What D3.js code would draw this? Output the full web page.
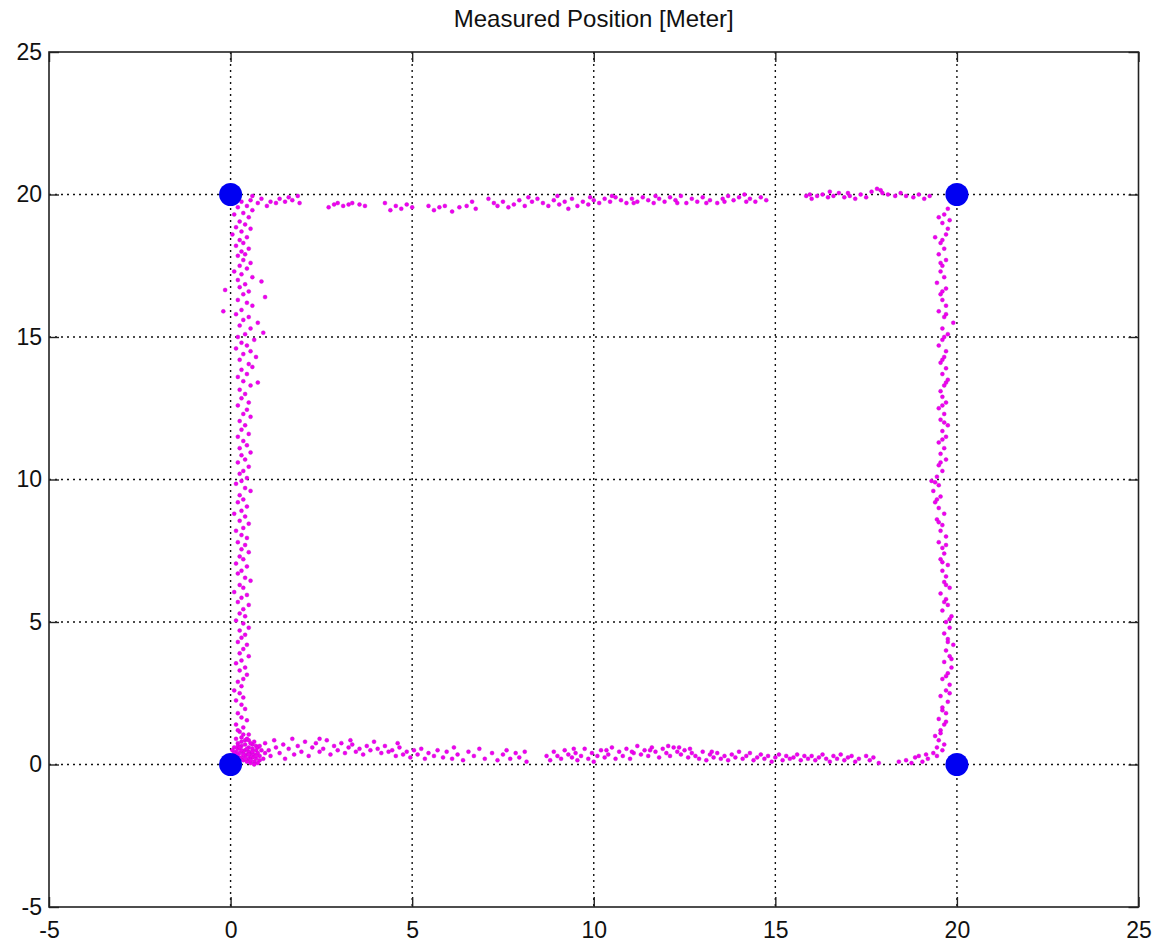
<!DOCTYPE html>
<html>
<head>
<meta charset="utf-8">
<script src="https://cdn.jsdelivr.net/npm/d3@7"></script>
<style>
  html, body { margin: 0; padding: 0; background: #fff; }
  svg { display: block; }
  text { font-family: "Liberation Sans", Arial, Helvetica, sans-serif; fill: #111; }
</style>
</head>
<body>
<script>
const titleText = "Measured Position [Meter]";
const xTicks = [-5, 0, 5, 10, 15, 20, 25];
const yTicks = [-5, 0, 5, 10, 15, 20, 25];
const anchorX = [0, 0, 20, 20];
const anchorY = [0, 20, 0, 20];

const leftPts = [
[0.3,19.75],[0.55,19.8],[0.45,19.6],[0.2,19.55],[0.6,19.45],[0.35,19.35],[0.1,19.3],[0.5,19.2],[0.25,19.05],[0.4,18.95],
[0.15,18.85],[0.55,18.8],[0.3,18.7],[0.05,18.6],[0.45,18.5],[0.25,18.4],[0.35,18.3],[0.15,18.2],[0.5,18.1],[0.3,18.0],
[0.4,17.9],[0.2,17.85],[0.35,17.7],[0.55,17.6],[0.25,17.5],[0.45,17.4],[0.1,17.3],[0.3,17.2],[0.6,17.1],[0.2,17.0],
[0.85,16.95],[0.4,16.85],[0.25,16.75],[-0.15,16.65],[0.5,16.6],[0.35,16.5],[0.95,16.4],[0.2,16.3],[0.45,16.2],[0.6,16.1],
[-0.2,15.9],[0.3,15.95],[0.15,15.8],[0.5,15.7],[0.75,15.5],[0.35,15.6],[0.25,15.4],[0.55,15.3],[0.9,15.15],[0.4,15.1],
[0.2,15.0],[0.65,14.9],[0.3,14.8],[0.45,14.7],[0.15,14.6],[0.55,14.5],[0.35,14.4],[0.7,14.3],[0.25,14.2],[0.5,14.05],
[0.6,13.95],[0.3,13.85],[0.45,13.7],[0.2,13.6],[0.75,13.4],[0.35,13.45],[0.55,13.3],[0.25,13.15],[0.4,13.0],[0.3,12.85],
[0.5,12.7],[0.2,12.6],[0.45,12.45],[0.35,12.3],[0.55,12.2],[0.25,12.05],[0.4,11.9],[0.3,11.75],[0.5,11.6],[0.2,11.5],
[0.35,11.35],[0.45,11.2],[0.25,11.1],[0.55,10.95],[0.3,10.85],[0.4,10.7],[0.2,10.6],[0.5,10.45],[0.35,10.3],[0.25,10.2],
[0.45,10.05],[0.3,9.95],[0.15,9.85],[0.4,9.7],[0.55,9.6],[0.25,9.45],[0.35,9.3],[0.2,9.2],[0.45,9.05],[0.3,8.9],
[0.1,8.8],[0.4,8.7],[0.25,8.55],[0.5,8.45],[0.35,8.3],[0.15,8.2],[0.3,8.05],[0.45,7.95],[0.2,7.8],[0.4,7.7],
[0.3,7.55],[0.5,7.45],[0.25,7.3],[0.35,7.2],[0.15,7.05],[0.45,6.95],[0.3,6.8],[0.2,6.7],[0.4,6.55],[0.55,6.45],
[0.25,6.3],[0.35,6.2],[0.1,6.05],[0.45,5.95],[0.3,5.85],[0.2,5.7],[0.5,5.6],[0.35,5.45],[0.25,5.3],[0.4,5.2],
[0.15,5.05],[0.35,4.95],[0.5,4.8],[0.25,4.7],[0.4,4.55],[0.3,4.45],[0.2,4.3],[0.45,4.2],[0.35,4.05],[0.25,3.9],
[0.5,3.8],[0.3,3.65],[0.15,3.55],[0.4,3.4],[0.25,3.3],[0.45,3.15],[0.35,3.0],[0.2,2.9],[0.3,2.75],[0.1,2.6],
[0.25,2.5],[0.35,2.35],[0.15,2.25],[0.3,2.1],[0.4,1.95],[0.2,1.8],[0.3,1.65],[0.45,1.55],[0.15,1.4],[0.35,1.3],
[0.25,1.15],[0.5,1.05],[0.3,0.95],[0.4,0.85],[0.2,0.75]
];

const cornerPts = [
[0.1,0.6],[0.2,0.55],[0.3,0.65],[0.4,0.5],[0.5,0.6],[0.6,0.55],[0.7,0.5],[0.15,0.45],[0.25,0.4],[0.35,0.45],
[0.45,0.35],[0.55,0.4],[0.65,0.35],[0.75,0.4],[0.2,0.3],[0.3,0.25],[0.4,0.3],[0.5,0.2],[0.6,0.25],[0.7,0.2],
[0.8,0.3],[0.35,0.15],[0.45,0.1],[0.55,0.05],[0.65,0.1],[0.75,0.05],[0.8,0.15],[0.25,0.2],[0.15,0.35],[0.05,0.5],
[0.4,0.7],[0.6,0.7],[0.7,0.65],[0.5,0.45],[0.3,0.5],[0.2,0.65],[0.1,0.4],[0.65,0.0],[0.55,0.3],[0.45,0.55],
[0.85,0.5],[0.9,0.2],[0.75,0.6],[0.35,0.35],[0.6,0.45],[0.25,0.6],[0.5,0.35],[0.7,0.3],[0.4,0.2],[0.55,0.15],
[0.3,0.8],[0.15,0.9],[0.35,1.05],[0.2,1.2],[0.45,0.9],[0.55,0.75],[0.8,0.65],[0.95,0.4],[0.65,0.8],[0.5,0.85]
];

const bottomPts = [
[0.95,0.75],[1.05,0.5],[1.1,0.3],[1.2,0.85],[1.25,0.6],[1.35,0.4],[1.45,0.7],[1.5,0.2],[1.6,0.55],[1.7,0.9],
[1.75,0.35],[1.85,0.65],[1.95,0.45],[2.05,0.8],[2.15,0.3],[2.25,0.6],[2.35,0.75],[2.45,0.45],[2.55,0.55],[2.65,0.85],
[2.75,0.35],[2.85,0.65],[2.95,0.5],[3.05,0.75],[3.15,0.4],[3.25,0.6],[3.35,0.7],[3.45,0.45],[3.55,0.55],[3.65,0.35],
[3.75,0.65],[3.85,0.5],[3.95,0.8],[4.05,0.55],[4.15,0.4],[4.25,0.65],[4.35,0.45],[4.45,0.5],[4.55,0.3],[4.65,0.6],
[4.75,0.35],[4.85,0.45],[4.95,0.25],[5.05,0.5],[5.15,0.35],[5.25,0.55],[5.35,0.2],[5.45,0.4],[5.6,0.3],[5.7,0.5],
[5.85,0.25],[5.95,0.45],[6.1,0.2],[6.25,0.35],[6.4,0.15],[6.55,0.45],[6.7,0.3],[6.85,0.55],[7.0,0.2],[7.2,0.4],
[7.35,0.15],[7.5,0.35],[7.6,0.5],[7.7,0.2],[7.85,0.4],[7.95,0.25],[8.1,0.45],[8.15,0.1],
[8.7,0.3],[8.8,0.15],[8.9,0.45],[9.0,0.3],[9.1,0.2],[9.2,0.5],[9.3,0.35],[9.4,0.25],[9.5,0.4],[9.55,0.15],
[9.65,0.3],[9.75,0.55],[9.85,0.2],[9.95,0.4],[10.0,0.1],[10.1,0.3],[10.2,0.5],[10.3,0.25],[10.4,0.35],[10.5,0.6],
[10.6,0.2],[10.7,0.45],[10.8,0.3],[10.9,0.55],[11.0,0.2],[11.1,0.4],[11.2,0.65],[11.3,0.35],[11.4,0.5],[11.5,0.3],
[11.6,0.6],[11.7,0.45],[11.8,0.25],[11.9,0.55],[12.0,0.4],[12.1,0.3],[12.2,0.6],[12.3,0.45],[12.4,0.35],[12.5,0.5],
[12.6,0.25],[12.7,0.4],[12.8,0.3],[12.9,0.2],[13.0,0.45],[13.1,0.15],[13.2,0.35],[13.3,0.25],[13.4,0.4],[13.5,0.2],
[13.6,0.3],[13.7,0.15],[13.8,0.35],[13.9,0.25],[14.0,0.45],[14.1,0.2],[14.2,0.3],[14.3,0.4],[14.4,0.15],[14.5,0.25],
[14.6,0.35],[14.7,0.2],[14.8,0.3],[14.9,0.1],[15.0,0.25],[15.1,0.35],[15.2,0.15],[15.3,0.3],[15.4,0.2],[15.5,0.25],
[15.6,0.35],[15.7,0.15],[15.8,0.3],[15.9,0.2],[16.0,0.3],[16.1,0.15],[16.2,0.25],[16.3,0.35],[16.4,0.2],[16.5,0.1],
[16.6,0.3],[16.7,0.2],[16.8,0.35],[16.9,0.15],[17.0,0.25],[17.1,0.3],[17.2,0.1],[17.3,0.2],[17.5,0.3],[17.6,0.15],
[17.7,0.25],[17.85,0.05],
[18.4,0.1],[18.6,0.15],[18.75,0.05],[18.85,0.25],[18.95,0.3],[19.05,0.1],[19.15,0.35],[19.2,0.2],
[9.45,0.55],[10.35,0.5],[11.05,0.45],[11.55,0.5],[12.05,0.65],[12.35,0.6],[12.65,0.55],[13.25,0.45],[2.45,0.9],[3.3,0.85],[4.6,0.75],[6.15,0.6]
];

const rightPts = [
[19.35,0.4],[19.45,0.6],[19.5,0.85],[19.6,0.5],[19.4,1.0],[19.55,1.2],[19.65,1.4],[19.5,1.6],[19.7,1.8],[19.6,2.0],
[19.75,2.2],[19.55,2.4],[19.7,2.6],[19.8,2.8],[19.6,3.0],[19.75,3.2],[19.85,3.4],[19.65,3.6],[19.8,3.8],[19.7,4.0],
[19.9,4.2],[19.75,4.4],[19.65,4.6],[19.8,4.8],[19.7,5.0],[19.85,5.2],[19.6,5.4],[19.75,5.6],[19.7,5.8],[19.55,6.0],
[19.8,6.2],[19.65,6.4],[19.7,6.6],[19.6,6.8],[19.75,7.0],[19.55,7.2],[19.65,7.4],[19.6,7.6],[19.5,7.8],[19.7,8.0],
[19.55,8.2],[19.6,8.4],[19.45,8.6],[19.65,8.8],[19.5,9.0],[19.4,9.2],[19.55,9.4],[19.35,9.6],[19.5,9.8],[19.3,9.95],
[19.45,10.1],[19.6,10.3],[19.5,10.5],[19.7,10.7],[19.55,10.9],[19.65,11.1],[19.5,11.3],[19.7,11.5],[19.6,11.7],[19.75,11.9],
[19.55,12.1],[19.65,12.3],[19.5,12.5],[19.7,12.7],[19.6,12.9],[19.55,13.1],[19.65,13.3],[19.75,13.5],[19.6,13.7],[19.7,13.9],
[19.55,14.1],[19.65,14.3],[19.7,14.5],[19.5,14.7],[19.6,14.9],[19.75,15.1],[19.6,15.3],[19.9,15.5],[19.65,15.7],[19.5,15.9],
[19.7,16.1],[19.6,16.3],[19.55,16.5],[19.7,16.7],[19.45,16.9],[19.65,17.1],[19.55,17.3],[19.6,17.5],[19.7,17.7],[19.5,17.9],
[19.65,18.1],[19.55,18.3],[19.4,18.5],[19.7,18.6],[19.75,18.8],[19.6,19.0],[19.8,19.1],[19.65,19.3],[19.75,19.5],[19.5,19.2],
[19.45,0.3],[19.65,0.7],[19.55,1.1],[19.7,1.5],[19.6,1.9],[19.8,2.5],[19.7,3.1],[19.85,3.7],[19.75,4.3],[19.8,5.1],
[19.65,5.7],[19.7,6.3],[19.6,7.1],[19.7,7.7],[19.5,8.5],[19.45,9.3],[19.4,9.9],[19.55,10.6],[19.6,11.4],[19.65,12.0],
[19.6,12.6],[19.7,13.4],[19.6,14.2],[19.65,15.0],[19.7,15.8],[19.6,16.6],[19.55,17.6],[19.6,18.4]
];

const topPts = [
[0.6,19.95],[0.75,19.7],[0.85,19.85],[1.0,19.6],[1.1,19.75],[1.25,19.7],[1.35,19.85],[1.5,19.75],[1.6,19.9],[1.7,19.8],
[1.85,19.95],[1.9,19.7],
[2.7,19.55],[2.85,19.65],[2.95,19.7],[3.1,19.6],[3.25,19.65],[3.35,19.7],[3.55,19.65],[3.7,19.6],
[4.25,19.7],[4.4,19.45],[4.55,19.6],[4.7,19.5],[4.85,19.65],[5.0,19.55],
[5.45,19.6],[5.6,19.45],[5.75,19.55],[5.9,19.6],[6.1,19.4],[6.3,19.55],[6.5,19.6],[6.65,19.75],[6.75,19.5],
[7.1,19.85],[7.25,19.7],[7.35,19.6],[7.5,19.75],[7.65,19.55],[7.8,19.65],[7.95,19.8],[8.1,19.6],[8.3,19.75],[8.45,19.85],
[8.6,19.7],[8.75,19.6],[8.9,19.8],[9.05,19.65],[9.2,19.75],[9.3,19.5],[9.4,19.85],
[9.55,19.6],[9.7,19.75],[9.85,19.65],[10.0,19.8],[10.15,19.7],[10.3,19.85],[10.45,19.75],[10.6,19.9],[10.75,19.8],[10.9,19.7],
[11.05,19.85],[11.2,19.75],[11.35,19.9],[11.5,19.8],[11.65,19.7],[11.8,19.85],[11.95,19.75],[12.1,19.9],[12.25,19.8],[12.4,19.95],
[12.55,19.7],[12.7,19.85],[12.85,19.75],[13.0,19.9],[13.2,19.8],[13.4,19.7],[13.55,19.85],[13.7,19.95],[13.85,19.8],[14.0,19.9],
[14.15,20.0],[14.3,19.85],[14.45,19.75],[14.6,19.9],[14.75,19.8],
[15.85,19.95],[16.0,19.85],[16.15,19.95],[16.3,20.0],[16.45,19.9],[16.6,19.95],[16.75,20.05],[16.9,19.9],[17.05,19.95],[17.2,19.85],
[17.35,20.0],[17.5,19.9],[17.65,20.1],[17.8,20.2],[17.95,20.05],[18.1,20.0],[18.3,19.95],[18.45,20.05],[18.6,19.95],[18.8,19.9],
[18.95,20.0],[19.1,19.85],[19.25,19.95],
[8.2,19.9],[9.0,19.95],[9.9,19.9],[10.5,19.95],[11.1,19.7],[11.7,19.95],[12.3,19.7],[13.1,19.7],[13.6,19.75],[14.2,19.75],
[16.5,20.1],[17.0,20.05],[17.9,20.15],[15.95,20.0]
];

const allPts = leftPts.concat(cornerPts, bottomPts, rightPts, topPts);

const W = 1155, H = 942;
const M = { left: 49, right: 1138.5, top: 52, bottom: 907 };

const x = d3.scaleLinear().domain([-5, 25]).range([M.left, M.right]);
const y = d3.scaleLinear().domain([-5, 25]).range([M.bottom, M.top]);

const svg = d3.select("body").append("svg").attr("width", W).attr("height", H);

// Grid
const grid = svg.append("g").attr("class", "grid");
grid.selectAll("line.gx").data(xTicks.filter(t => t > -5 && t < 25)).join("line")
  .attr("x1", d => x(d)).attr("x2", d => x(d))
  .attr("y1", M.top).attr("y2", M.bottom)
  .attr("stroke", "#111").attr("stroke-width", 1.4).attr("stroke-dasharray", "2,4");
grid.selectAll("line.gy").data(yTicks.filter(t => t > -5 && t < 25)).join("line")
  .attr("y1", d => y(d)).attr("y2", d => y(d))
  .attr("x1", M.left).attr("x2", M.right)
  .attr("stroke", "#111").attr("stroke-width", 1.4).attr("stroke-dasharray", "2,4");

// Points
svg.append("g").selectAll("circle").data(allPts).join("circle")
  .attr("cx", d => x(d[0])).attr("cy", d => y(d[1]))
  .attr("r", 2).attr("fill", "#f000f0").attr("stroke", "#c010c8").attr("stroke-width", 0.4);

// Anchors
svg.append("g").selectAll("circle").data(anchorX.map((v, i) => [v, anchorY[i]])).join("circle")
  .attr("cx", d => x(d[0])).attr("cy", d => y(d[1]))
  .attr("r", 11.5).attr("fill", "#0000f2");

// Axes (ticks inside, on all four sides)
const tickLen = 10;
const fmt = d => String(d);
const axB = d3.axisBottom(x).tickValues(xTicks).tickSizeInner(-tickLen).tickSizeOuter(0).tickPadding(15).tickFormat(fmt);
const axL = d3.axisLeft(y).tickValues(yTicks).tickSizeInner(-tickLen).tickSizeOuter(0).tickPadding(7).tickFormat(fmt);
const axT = d3.axisTop(x).tickValues(xTicks).tickSizeInner(-tickLen).tickSizeOuter(0).tickFormat("");
const axR = d3.axisRight(y).tickValues(yTicks).tickSizeInner(-tickLen).tickSizeOuter(0).tickFormat("");

function styleAxis(g) {
  g.attr("font-size", null).attr("font-family", null);
  g.select(".domain").remove();
  g.selectAll(".tick line").attr("stroke", "#222").attr("stroke-width", 1.4);
  g.selectAll(".tick text").attr("font-size", 23).attr("fill", "#111");
}
svg.append("g").attr("transform", `translate(0,${M.bottom})`).call(axB).call(styleAxis);
svg.append("g").attr("transform", `translate(${M.left},0)`).call(axL).call(styleAxis);
svg.append("g").attr("transform", `translate(0,${M.top})`).call(axT).call(styleAxis);
svg.append("g").attr("transform", `translate(${M.right},0)`).call(axR).call(styleAxis);

// Box
svg.append("rect")
  .attr("x", M.left).attr("y", M.top)
  .attr("width", M.right - M.left).attr("height", M.bottom - M.top)
  .attr("fill", "none").attr("stroke", "#222").attr("stroke-width", 1.6);

// Title
svg.append("text")
  .attr("x", (M.left + M.right) / 2).attr("y", 27)
  .attr("text-anchor", "middle").attr("font-size", 24)
  .attr("textLength", 280).attr("lengthAdjust", "spacingAndGlyphs")
  .text(titleText);
</script>
</body>
</html>
